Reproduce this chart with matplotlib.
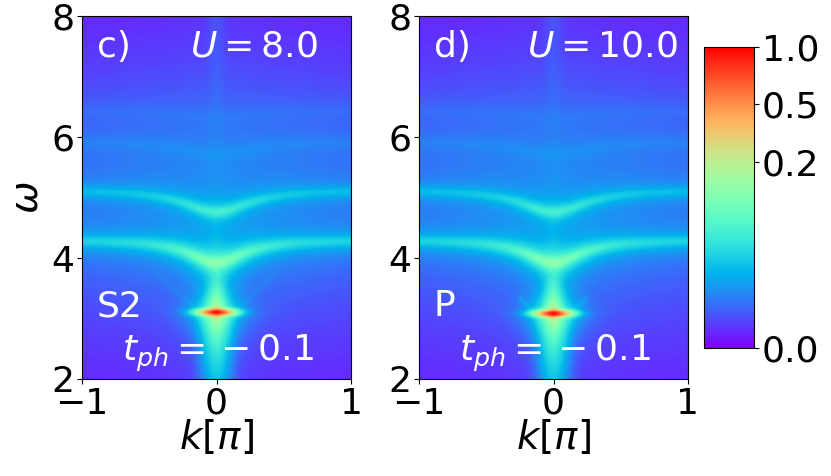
import numpy as np
import matplotlib.pyplot as plt
from matplotlib.colors import PowerNorm

# panel annotations
panel_tags = ['c)', 'd)']
panel_U = [8.0, 10.0]
panel_phase = ['S2', 'P']
t_ph = -0.1

# quasiparticle peak at k=0 (omega, weight), per panel
qp_omega = [3.10, 3.08]
qp_weight = [0.95, 0.95]

# dispersive bands (same in both panels)
band_bottom = [3.92, 4.76, 5.72, 6.32]   # omega at k = 0
band_top = [4.30, 5.13, 5.93, 6.45]      # omega at |k| = 1
band_w0 = [0.16, 0.055, 0.0025, 0.0012]  # weight at k = 0
band_w1 = [0.02, 0.012, 0.002, 0.001]    # weight at |k| = 1
band_kc = [0.25, 0.30, 0.35, 0.40]
band_gam = [0.09, 0.08, 0.13, 0.13]

# faint satellite wings next to the peak
wing_amp = [0.0012, 0.004]
wing_len = [0.45, 0.26]

k = np.linspace(-1, 1, 401)
w = np.linspace(2, 8, 601)
K, W = np.meshgrid(k, w)


def spectral(i):
    A = 2e-5 + 0.0035 * np.exp(-0.5 * (K / 0.9) ** 2 - 0.5 * ((W - 5.0) / 1.0) ** 2)
    # bands
    for b0, b1, a0, a1, kc, g in zip(band_bottom, band_top, band_w0, band_w1, band_kc, band_gam):
        wk = b1 - (b1 - b0) / (1 + (K / kc) ** 2)
        amp = a1 + (a0 - a1) / (1 + (K / (kc * 0.8)) ** 2)
        A += amp * g ** 2 / ((W - wk) ** 2 + g ** 2)
    # quasiparticle peak + diamond halo
    dw = W - qp_omega[i]
    A += qp_weight[i] * np.exp(-0.5 * (K / 0.075) ** 2 - 0.5 * (dw / 0.035) ** 2)
    A += 0.3 * np.exp(-(np.abs(K) / 0.06 + np.abs(dw) / 0.19))
    # vertical streak at k = 0
    h = np.where(dw < 0, 0.11 * np.exp(dw / 0.6), 0.11 * np.exp(-dw / 0.35) + 0.0006)
    sk = np.where(dw < 0, 0.06, 0.04)
    A += h * np.exp(-0.5 * (K / sk) ** 2)
    # wings
    wl = qp_omega[i] + 0.05 + (np.abs(K) - 0.15) * 2.0
    on = (np.abs(K) > 0.14) & (np.abs(K) < wing_len[i])
    A += wing_amp[i] * on * np.exp(-0.5 * ((W - wl) / 0.04) ** 2)
    return A / A.max()


fig = plt.figure(figsize=(8.31, 4.76), dpi=100)
norm = PowerNorm(gamma=0.3, vmin=0, vmax=1)
lefts = [82 / 831, 419 / 831]
for i in range(2):
    ax = fig.add_axes([lefts[i], 97 / 476, 269 / 831, 363 / 476])
    im = ax.imshow(spectral(i), extent=[-1, 1, 2, 8], origin='lower', aspect='auto',
                   cmap='rainbow', norm=norm, interpolation='bilinear')
    ax.set_xticks([-1, 0, 1])
    ax.set_yticks([2, 4, 6, 8])
    ax.tick_params(labelsize=26, pad=2)
    ax.set_xlabel(r'$k[\pi]$', fontsize=28, labelpad=-2)
    if i == 0:
        ax.set_ylabel(r'$\omega$', fontsize=28, labelpad=4)
    ax.text(0.055, 0.915, panel_tags[i], transform=ax.transAxes, color='white',
            fontsize=26, va='center', ha='left')
    ax.text(0.40, 0.915, r'$U=%.1f$' % panel_U[i], transform=ax.transAxes, color='white',
            fontsize=26, va='center', ha='left')
    ax.text(0.055, 0.20, panel_phase[i], transform=ax.transAxes, color='white',
            fontsize=26, va='center', ha='left')
    ax.text(0.15, 0.07, r'$t_{ph}={}%s%.1f$' % ('-', abs(t_ph)), transform=ax.transAxes,
            color='white', fontsize=26, va='center', ha='left')

cax = fig.add_axes([704 / 831, 128 / 476, 50 / 831, 301 / 476])
cb = fig.colorbar(im, cax=cax, ticks=[0.0, 0.2, 0.5, 1.0])
cb.ax.set_yticklabels(['0.0', '0.2', '0.5', '1.0'])
cb.ax.tick_params(labelsize=26, pad=2)

fig.savefig('out.png', dpi=100)
